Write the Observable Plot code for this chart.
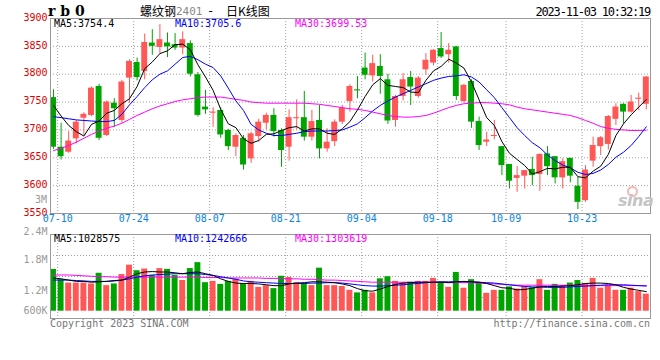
<!DOCTYPE html>
<html><head><meta charset="utf-8">
<script src="https://cdn.jsdelivr.net/npm/d3@7"></script>
<script src="https://cdn.jsdelivr.net/npm/@observablehq/plot@0.6"></script>
<style>
body{margin:0;background:#fff;}
#wrap{position:relative;width:660px;height:360px;overflow:hidden;font-family:"DejaVu Sans Mono",monospace;}
#wrap svg{position:absolute;left:0;}
.t{position:absolute;white-space:pre;line-height:1;}
</style></head><body><div id="wrap"></div>
<script>
const dates = ["07-10","07-11","07-12","07-13","07-14","07-17","07-18","07-19","07-20","07-21","07-24","07-25","07-26","07-27","07-28","07-31",
"08-01","08-02","08-03","08-04","08-07","08-08","08-09","08-10","08-11","08-14","08-15","08-16","08-17","08-18","08-21","08-22","08-23","08-24","08-25","08-28","08-29","08-30","08-31",
"09-01","09-04","09-05","09-06","09-07","09-08","09-11","09-12","09-13","09-14","09-15","09-18","09-19","09-20","09-21","09-22","09-25","09-26","09-27","09-28",
"10-09","10-10","10-11","10-12","10-13","10-16","10-17","10-18","10-19","10-20","10-23","10-24","10-25","10-26","10-27","10-30","10-31",
"11-01","11-02","11-03"];
const open = [3758,3669,3660,3684,3721,3726,3778,3690,3748,3717,
3793,3821,3805,3856,3848,3856,3853,3847,3855,3799,
3741,3730,3735,3699,3669,3685,3648,3688,3712,3726,
3699,3669,3720,3722,3687,3717,3666,3679,3714,3751,
3772,3811,3797,3814,3790,3717,3760,3794,3760,3808,
3820,3846,3835,3849,3751,3787,3715,3678,3689,3670,
3638,3613,3617,3629,3620,3657,3652,3614,3649,3599,
3573,3644,3670,3674,3719,3746,3732,3755,3746];
const high = [3772,3712,3697,3717,3731,3777,3782,3752,3756,3789,
3826,3829,3872,3880,3889,3874,3873,3876,3860,3803,
3771,3740,3740,3701,3693,3690,3696,3719,3730,3738,
3702,3736,3754,3769,3735,3744,3702,3718,3744,3781,
3796,3838,3834,3835,3800,3762,3801,3805,3796,3837,
3844,3875,3855,3850,3782,3790,3723,3696,3717,3670,
3638,3634,3627,3651,3657,3670,3652,3648,3649,3615,
3636,3687,3688,3726,3747,3747,3762,3766,3796];
const low = [3665,3646,3658,3675,3690,3724,3681,3688,3704,3712,
3748,3788,3790,3834,3836,3830,3843,3835,3795,3723,
3728,3705,3685,3663,3652,3628,3640,3678,3700,3687,
3633,3644,3700,3680,3680,3648,3660,3670,3710,3732,
3756,3790,3786,3764,3710,3705,3752,3744,3757,3798,
3815,3828,3820,3753,3748,3703,3663,3670,3682,3618,
3594,3588,3594,3600,3590,3618,3603,3594,3605,3557,
3570,3633,3654,3664,3708,3711,3730,3735,3736];
const close = [3669,3652,3680,3714,3728,3775,3685,3750,3738,3786,
3823,3794,3857,3850,3862,3849,3847,3862,3800,3726,
3736,3732,3691,3670,3690,3637,3693,3714,3726,3697,
3663,3722,3722,3687,3715,3666,3678,3714,3739,3778,
3770,3798,3819,3796,3716,3760,3790,3777,3793,3825,
3843,3831,3843,3760,3780,3714,3672,3682,3690,3636,
3608,3618,3627,3618,3656,3634,3614,3643,3617,3570,
3628,3672,3686,3724,3741,3732,3750,3757,3795];
const ma5 = [3744,3725,3708,3697,3689,3710,3716,3730,3735,3747,
3756,3778,3810,3822,3837,3842,3853,3854,3844,3817,
3795,3771,3737,3711,3704,3684,3676,3681,3692,3693,
3699,3704,3706,3698,3702,3702,3694,3692,3702,3715,
3736,3760,3781,3792,3780,3778,3776,3768,3767,3789,
3806,3814,3827,3820,3811,3786,3754,3722,3708,3679,
3658,3647,3636,3621,3625,3631,3630,3633,3633,3616,
3614,3626,3635,3656,3690,3711,3727,3741,3754.4];
const ma10 = [3724,3722,3720,3718,3717,3716,3715,3715,3717,3728,
3745,3760,3776,3790,3800,3806,3818,3830,3832,3826,
3818,3812,3797,3775,3752,3735,3710,3700,3694,3690,
3690,3692,3694,3697,3698,3698,3698,3699,3700,3705,
3711,3722,3734,3744,3752,3759,3765,3771,3777,3783,
3789,3793,3796,3797,3799,3795,3786,3772,3758,3740,
3722,3704,3690,3677,3668,3655,3645,3637,3632,3624,
3620,3622,3628,3638,3651,3660,3672,3688,3705.6];
const ma30 = [3663,3667,3672,3678,3685,3692,3698,3703,3707,3712,
3719,3726,3732,3738,3743,3747,3751,3754,3756,3758,
3759,3759,3759,3757,3755,3753,3750,3749,3748,3748,
3748,3748,3748,3748,3747,3746,3744,3742,3740,3738,
3737,3735,3732,3729,3726,3724,3723,3723,3724,3726,
3730,3735,3740,3744,3747,3748,3749,3749,3748,3747,
3745,3741,3738,3736,3734,3732,3730,3728,3726,3722,
3717,3712,3706,3703,3701,3700,3699,3699,3699.53];
// volume (millions, as read against the volume axis)
const volume = [1.58,1.34,1.26,1.26,1.26,1.24,1.49,1.20,1.24,1.46,
1.68,1.55,1.59,1.44,1.60,1.58,1.44,1.32,1.60,1.74,
1.27,1.30,1.23,1.30,1.35,1.25,1.30,1.16,1.20,1.13,
1.42,1.39,1.27,1.25,1.20,1.61,1.20,1.20,1.18,1.09,
1.03,1.09,1.03,1.36,1.41,1.30,1.26,1.28,1.30,1.30,
1.37,1.25,1.16,1.51,1.14,1.34,1.27,1.02,1.09,1.09,
1.17,1.12,1.17,1.15,1.34,1.09,1.23,1.20,1.26,1.32,
1.25,1.37,1.14,1.20,1.09,1.09,1.14,1.06,1.00];
const vma5 = [1.38,1.36,1.33,1.30,1.30,1.28,1.29,1.30,1.32,1.33,
1.40,1.48,1.52,1.53,1.52,1.52,1.50,1.48,1.51,1.52,
1.48,1.44,1.36,1.30,1.26,1.25,1.25,1.24,1.22,1.20,
1.20,1.24,1.26,1.27,1.29,1.29,1.28,1.27,1.24,1.20,
1.13,1.08,1.07,1.12,1.18,1.23,1.26,1.27,1.28,1.28,
1.28,1.28,1.27,1.29,1.30,1.29,1.28,1.25,1.20,1.15,
1.14,1.10,1.11,1.14,1.17,1.18,1.18,1.19,1.20,1.22,
1.25,1.26,1.26,1.25,1.22,1.16,1.12,1.09,1.06];
const vma10 = [1.33,1.33,1.33,1.32,1.31,1.30,1.30,1.30,1.31,1.33,
1.36,1.40,1.43,1.45,1.46,1.47,1.48,1.48,1.48,1.48,
1.46,1.44,1.41,1.38,1.35,1.31,1.29,1.28,1.27,1.26,
1.25,1.25,1.25,1.25,1.26,1.26,1.27,1.27,1.26,1.24,
1.22,1.20,1.19,1.19,1.20,1.21,1.22,1.24,1.25,1.27,
1.28,1.29,1.29,1.29,1.29,1.29,1.28,1.27,1.26,1.24,
1.22,1.20,1.18,1.17,1.17,1.16,1.16,1.16,1.17,1.18,
1.19,1.20,1.21,1.22,1.22,1.22,1.21,1.20,1.19];
const vma30 = [1.45,1.45,1.45,1.44,1.43,1.42,1.41,1.41,1.40,1.40,
1.40,1.40,1.40,1.40,1.40,1.40,1.40,1.40,1.40,1.40,
1.39,1.39,1.39,1.38,1.38,1.38,1.38,1.38,1.37,1.37,
1.37,1.36,1.36,1.35,1.35,1.34,1.33,1.33,1.32,1.31,
1.30,1.29,1.28,1.28,1.28,1.28,1.28,1.28,1.28,1.28,
1.28,1.28,1.27,1.27,1.27,1.27,1.26,1.25,1.24,1.23,
1.22,1.21,1.21,1.21,1.21,1.21,1.21,1.21,1.21,1.21,
1.20,1.20,1.20,1.20,1.20,1.20,1.20,1.20,1.20];
const tickDates = ["07-10","07-24","08-07","08-21","09-04","09-18","10-09","10-23"];
const priceTicks = [3550,3600,3650,3700,3750,3800,3850,3900];
const volTicks = [0.6,1.2,1.8,2.4];
const volTickLabels = ["600K","1.2M","1.8M","2.4M"];
const legendMain = ["MA5:3754.4","MA10:3705.6","MA30:3699.53"];
const legendVol = ["MA5:1028575","MA10:1242666","MA30:1303619"];

const RED = "#ff5656", GREEN = "#00a400";
const rows = dates.map((d,i)=>({i, d, o:open[i], h:high[i], l:low[i], c:close[i], v:volume[i],
  m5:ma5[i], m10:ma10[i], m30:ma30[i], vm5:vma5[i], vm10:vma10[i], vm30:vma30[i]}));
const up = rows.filter(r=>r.c>=r.o), down = rows.filter(r=>r.c<r.o);
const flatUp = up.filter(r=>Math.abs(r.c-r.o)<2), flatDown = down.filter(r=>Math.abs(r.c-r.o)<2);
const xdom = [-0.395, 78.55];
const tickIdx = tickDates.map(t=>dates.indexOf(t)+0.55);
const hw = 0.39;
const dotted = {stroke:"#a0a0a0", strokeDasharray:"1,2"};
const font = {fontFamily:'"DejaVu Sans Mono", monospace', fontSize:"10px", background:"transparent", overflow:"visible"};

const main = Plot.plot({
  width:660, height:230, marginLeft:50, marginRight:10, marginTop:18, marginBottom:17,
  x:{domain:xdom, axis:null}, y:{domain:[3550,3900], axis:null},
  style:font,
  marks:[
    Plot.ruleY(priceTicks.slice(1,-1), dotted),
    Plot.ruleX(tickIdx, dotted),
    Plot.ruleX(up, {x:"i", y1:"l", y2:"h", stroke:RED}),
    Plot.ruleX(down, {x:"i", y1:"l", y2:"h", stroke:GREEN}),
    Plot.rect(up, {x1:d=>d.i-hw, x2:d=>d.i+hw, y1:"o", y2:"c", fill:RED}),
    Plot.rect(down, {x1:d=>d.i-hw, x2:d=>d.i+hw, y1:"o", y2:"c", fill:GREEN}),
    Plot.ruleY(flatUp, {x1:d=>d.i-hw, x2:d=>d.i+hw, y:"c", stroke:RED}),
    Plot.ruleY(flatDown, {x1:d=>d.i-hw, x2:d=>d.i+hw, y:"c", stroke:GREEN}),
    Plot.line(rows, {x:"i", y:"m30", stroke:"#ff00ff", strokeWidth:1}),
    Plot.line(rows, {x:"i", y:"m10", stroke:"#0000ff", strokeWidth:1}),
    Plot.line(rows, {x:"i", y:"m5", stroke:"#000000", strokeWidth:1}),
    Plot.frame({stroke:"#999"}),
    Plot.text(priceTicks, {y:d=>d, frameAnchor:"left", dx:-3, dy:-1, textAnchor:"end", text:d=>String(d), fill:"#e00000"}),
    Plot.text(tickDates, {x:(d,i)=>tickIdx[i], frameAnchor:"bottom", dy:8, text:d=>d, fill:"#0a84e0"})
  ]
});
main.style.top = "0px";

const vmin = 0.429, vmax = 2.4;
const volLabel = (vals, dy) => Plot.text(vals, {y:d=>d, frameAnchor:"left", dx:-3, dy, textAnchor:"end",
  text:d=>volTickLabels[volTicks.indexOf(d)], fill:"#999"});
const vol = Plot.plot({
  width:660, height:100, marginLeft:50, marginRight:10, marginTop:4, marginBottom:12,
  x:{domain:xdom, axis:null}, y:{domain:[vmin,vmax], axis:null},
  style:font,
  marks:[
    Plot.ruleY([1,2,3].map(k=>vmin+(vmax-vmin)*k/4), dotted),
    Plot.ruleX(tickIdx, dotted),
    Plot.rect(up, {x1:d=>d.i-hw, x2:d=>d.i+hw, y1:()=>volTicks[0], y2:"v", fill:RED}),
    Plot.rect(down, {x1:d=>d.i-hw, x2:d=>d.i+hw, y1:()=>volTicks[0], y2:"v", fill:GREEN}),
    Plot.line(rows, {x:"i", y:"vm30", stroke:"#ff00ff", strokeWidth:1}),
    Plot.line(rows, {x:"i", y:"vm10", stroke:"#0000ff", strokeWidth:1}),
    Plot.line(rows, {x:"i", y:"vm5", stroke:"#000000", strokeWidth:1}),
    Plot.frame({stroke:"#999"}),
    volLabel([2.4], -3),
    volLabel([1.8, 0.6], 0),
    volLabel([1.2], 5)
  ]
});
vol.style.top = "230px";

const wrap = document.getElementById("wrap");
wrap.appendChild(main);
wrap.appendChild(vol);

function txt(s, left, cy, size, color, extra){
  const e = document.createElement("span");
  e.className = "t";
  e.textContent = s;
  e.style.fontSize = size+"px";
  e.style.top = (cy - size/2)+"px";
  if (left >= 0) e.style.left = left+"px"; else e.style.right = (-left)+"px";
  e.style.color = color;
  if (extra) Object.assign(e.style, extra);
  wrap.appendChild(e);
  return e;
}
txt("r b 0", 48, 11, 14, "#000", {fontFamily:'"DejaVu Serif",serif', fontWeight:"bold"});
txt("螺纹钢", 140, 11, 12, "#000", {fontFamily:'"Noto Sans CJK SC",sans-serif'});
txt("2401", 176, 11.5, 11, "#888", {fontFamily:'"DejaVu Sans Mono",monospace'});
txt("-", 207, 11, 12, "#000", {fontFamily:'"DejaVu Sans Mono",monospace'});
txt("日K线图", 226, 11, 12, "#000", {fontFamily:'"Noto Sans CJK SC",sans-serif'});
txt("2023-11-03 10:32:19", -10, 11.5, 12, "#000", {letterSpacing:"-1.2px"});
txt(legendMain[0], 54, 23.5, 10, "#000");
txt(legendMain[1], 175, 23.5, 10, "#0000ff");
txt(legendMain[2], 295, 23.5, 10, "#ff00ff");
txt("3M", -613, 200, 10, "#999");
txt(legendVol[0], 54, 238.5, 10, "#000");
txt(legendVol[1], 175, 238.5, 10, "#0000ff");
txt(legendVol[2], 295, 238.5, 10, "#ff00ff");
txt("Copyright 2023 SINA.COM", 50, 324, 10, "#777");
txt("http://finance.sina.com.cn", -10, 324, 10, "#777");
// sina watermark
const eye = document.createElement("div");
Object.assign(eye.style, {position:"absolute", left:"627px", top:"186px", width:"7px", height:"7px", border:"2px solid #f2b8b8", borderRadius:"50%"});
wrap.appendChild(eye);
txt("sina", 618, 201, 16, "#c4c4c4", {fontFamily:'"DejaVu Sans",sans-serif', fontStyle:"italic", fontWeight:"bold", letterSpacing:"-0.5px"});
</script></body></html>
